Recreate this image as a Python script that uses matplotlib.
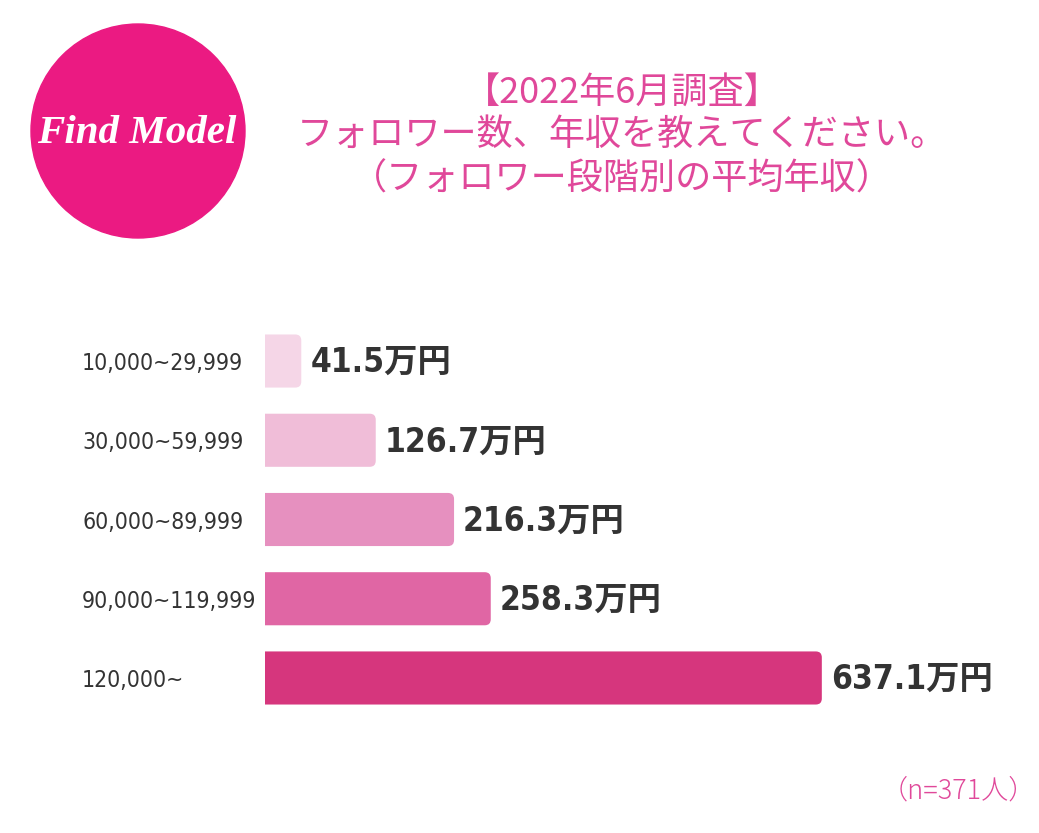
import matplotlib
matplotlib.use("Agg")
import matplotlib.pyplot as plt
from matplotlib.patches import FancyBboxPatch, Circle

plt.rcParams['font.family'] = ['Noto Sans CJK JP', 'DejaVu Sans']

# ---- data ----
categories = ["10,000~29,999", "30,000~59,999", "60,000~89,999", "90,000~119,999", "120,000~"]
values = [41.5, 126.7, 216.3, 258.3, 637.1]
value_labels = ["41.5万円", "126.7万円", "216.3万円", "258.3万円", "637.1万円"]
bar_colors = ["#f5d6e7", "#f0bdd8", "#e690bf", "#e066a4", "#d6367d"]
title_lines = ["【2022年6月調査】", "フォロワー数、年収を教えてください。", "（フォロワー段階別の平均年収）"]
note = "（n=371人）"

W, H = 1039, 833
fig = plt.figure(figsize=(W / 100, H / 100), dpi=100)
fig.patch.set_facecolor("white")

# ---- bar axes ----
left_px, right_px = 265, 1000
top_px, bot_px = 321.4, 717.6
ax = fig.add_axes([left_px / W, 1 - bot_px / H, (right_px - left_px) / W, (bot_px - top_px) / H])
xmax = (right_px - left_px) / 0.874
ax.set_xlim(0, xmax)
ax.set_ylim(len(categories) - 0.5, -0.5)
for s in ax.spines.values():
    s.set_visible(False)
ax.set_xticks([])

ypos = list(range(len(categories)))
bars = ax.barh(ypos, values, height=0.67, color=bar_colors)

xu = xmax / (right_px - left_px)          # data units per px (x)
yu = (len(categories)) / (bot_px - top_px)  # data units per px (y)
for b in bars:
    x0, y0, w, h = b.get_x(), b.get_y(), b.get_width(), b.get_height()
    b.set_visible(False)
    ext = 10 * xu
    p = FancyBboxPatch((x0 - ext, y0), w + ext, h,
                       boxstyle=f"round,pad=0,rounding_size={6 * xu}",
                       mutation_aspect=yu / xu,
                       facecolor=b.get_facecolor(), edgecolor="none", clip_on=True)
    ax.add_patch(p)

for y, v, lab in zip(ypos, values, value_labels):
    ax.text(v + 9 * xu, y + 0.02, lab, va="center", ha="left", fontsize=24,
            fontweight="bold", color="#333333",
            family=['DejaVu Sans', 'Noto Sans CJK JP'], fontstretch='condensed')

ax.set_yticks(ypos)
ax.set_yticklabels(categories, fontsize=16.5, color="#333333", ha="left",
                   family=['DejaVu Sans'], fontstretch='condensed')
ax.tick_params(axis="y", length=0, pad=(left_px - 82) * 0.72)

# ---- title ----
title_color = "#e0489a"
ys = [93, 135, 180]
for t, yy in zip(title_lines, ys):
    fig.text(622 / W, 1 - yy / H, t, ha="center", va="center", fontsize=26,
             color=title_color, fontweight="normal")

fig.text(958 / W, 1 - 790 / H, note, ha="center", va="center", fontsize=19.5,
         color=title_color, fontweight="light")

# ---- logo ----
lax = fig.add_axes([0, 0, 1, 1], zorder=-1)
lax.set_xlim(0, W)
lax.set_ylim(H, 0)
lax.set_aspect("equal")
lax.axis("off")
lax.add_patch(Circle((138, 131), 107, color="#eb1a82"))
lax.text(137, 133, "Find Model", ha="center", va="center", fontsize=29.5,
         color="white", fontweight="bold", style="italic", family="Liberation Serif")

fig.savefig("out.png", dpi=100, facecolor="white")
